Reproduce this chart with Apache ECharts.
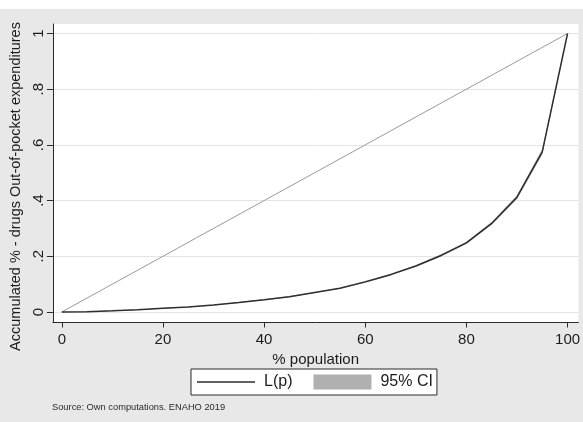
<!DOCTYPE html>
<html>
<head>
<meta charset="utf-8">
<script src="https://cdn.jsdelivr.net/npm/echarts@6/dist/echarts.min.js"></script>
<style>
  html, body { margin: 0; padding: 0; background: #ffffff; }
  #chart { width: 583px; height: 422px; }
</style>
</head>
<body>
<div id="chart"></div>
<script>
// Concentration (Lorenz) curve of out-of-pocket drug expenditures, ENAHO 2019
const popShare = [0, 5, 10, 15, 20, 25, 30, 35, 40, 45, 50, 55, 60, 65, 70, 75, 80, 85, 90, 95, 100];
const lorenz   = [0, 0.001, 0.004, 0.008, 0.013, 0.018, 0.025, 0.034, 0.044, 0.055, 0.070, 0.085, 0.108, 0.134, 0.165, 0.203, 0.248, 0.318, 0.412, 0.575, 1];
const ciLower  = [0, 0.000, 0.003, 0.007, 0.012, 0.017, 0.024, 0.032, 0.042, 0.053, 0.068, 0.083, 0.105, 0.131, 0.162, 0.199, 0.244, 0.313, 0.405, 0.565, 1];
const ciUpper  = [0, 0.002, 0.005, 0.009, 0.014, 0.019, 0.026, 0.036, 0.046, 0.057, 0.072, 0.087, 0.111, 0.137, 0.168, 0.207, 0.252, 0.323, 0.419, 0.585, 1];
const equality = [[0, 0], [100, 1]];

const xTicks = [0, 20, 40, 60, 80, 100];
const yTicks = [0, 0.2, 0.4, 0.6, 0.8, 1];
const yTickLabels = ['0', '.2', '.4', '.6', '.8', '1'];

const FONT = "'Liberation Sans', Arial, sans-serif";
const INK = '#1c1c1c';
const CI_GRAY = '#b0b0b0';

// thin horizontal stroke for the L(p) legend key (invisible corner points fix the box to 58x15)
const LINE_KEY = 'path://M0,0L0,0M0,6.75L58,6.75L58,8.25L0,8.25ZM58,15L58,15';

const chart = echarts.init(document.getElementById('chart'), null, { renderer: 'canvas' });

chart.setOption({
  animation: false,
  backgroundColor: '#e8e8e8',
  textStyle: { fontFamily: FONT, color: INK },
  graphic: [
    { type: 'rect', left: 0, top: 0, shape: { width: 583, height: 9 }, style: { fill: '#ffffff' }, silent: true },
    {
      type: 'text', left: 52, top: 403,
      style: { text: 'Source: Own computations. ENAHO 2019', font: "9.3px 'Liberation Sans', Arial, sans-serif", fill: '#2a2a2a' }
    }
  ],
  grid: {
    left: 50, right: 2, top: 24, bottom: 100,
    show: true, backgroundColor: '#ffffff', borderWidth: 0
  },
  legend: {
    left: 191, top: 369,
    padding: [5, 4, 5, 6],
    backgroundColor: '#ffffff',
    borderColor: '#2a2a2a', borderWidth: 1, borderRadius: 0,
    itemWidth: 58, itemHeight: 15, itemGap: 21,
    textStyle: { fontFamily: FONT, fontSize: 16, color: INK, padding: [0, 0, 0, 4] },
    data: [
      { name: 'L(p)', icon: LINE_KEY, itemStyle: { color: '#2e2e2e' } },
      { name: '95% CI', icon: 'rect', itemStyle: { color: CI_GRAY } }
    ]
  },
  xAxis: {
    type: 'value',
    min: -1.76, max: 102.15,
    name: '% population',
    nameLocation: 'middle',
    nameGap: 22,
    nameTextStyle: { fontFamily: FONT, fontSize: 15, color: INK },
    axisLine: { show: true, onZero: false, lineStyle: { color: '#2a2a2a', width: 1 } },
    axisTick: { show: true, length: 5.5, lineStyle: { color: '#2a2a2a' }, customValues: xTicks },
    axisLabel: { fontFamily: FONT, fontSize: 15, color: INK, margin: 10, customValues: xTicks },
    splitLine: { show: false }
  },
  yAxis: {
    type: 'value',
    min: -0.036, max: 1.034,
    name: 'Accumulated % - drugs Out-of-pocket expenditures',
    nameLocation: 'middle',
    nameGap: 21,
    nameTextStyle: { fontFamily: FONT, fontSize: 14.5, color: INK, padding: [0, 27, 0, 0] },
    axisLine: { show: true, onZero: false, lineStyle: { color: '#2a2a2a', width: 1 } },
    axisTick: { show: true, length: 6, lineStyle: { color: '#2a2a2a' }, customValues: yTicks },
    axisLabel: {
      fontFamily: FONT, fontSize: 15, color: INK, margin: 7, rotate: 90,
      customValues: yTicks,
      formatter: function (v) {
        const i = yTicks.findIndex(t => Math.abs(t - v) < 1e-9);
        return i >= 0 ? yTickLabels[i] : '';
      }
    },
    splitLine: { show: true, lineStyle: { color: '#e4e4e4', width: 1 } }
  },
  series: [
    {
      // confidence band: polygon between the lower and upper bounds
      name: '95% CI',
      type: 'custom',
      itemStyle: { color: CI_GRAY },
      clip: true,
      data: [[0, 0]],
      renderItem: function (params, api) {
        const pts = [];
        for (let i = 0; i < popShare.length; i++) pts.push(api.coord([popShare[i], ciUpper[i]]));
        for (let i = popShare.length - 1; i >= 0; i--) pts.push(api.coord([popShare[i], ciLower[i]]));
        return { type: 'polygon', shape: { points: pts }, style: { fill: CI_GRAY } };
      },
      z: 2
    },
    {
      name: 'equality',
      type: 'line',
      symbol: 'none',
      lineStyle: { color: '#9a9a9a', width: 1 },
      data: equality,
      z: 3
    },
    {
      name: 'L(p)',
      type: 'line',
      symbol: 'none',
      itemStyle: { color: '#2e2e2e' },
      lineStyle: { color: '#2e2e2e', width: 1.5 },
      data: popShare.map((p, i) => [p, lorenz[i]]),
      z: 4
    }
  ]
});
</script>
</body>
</html>
